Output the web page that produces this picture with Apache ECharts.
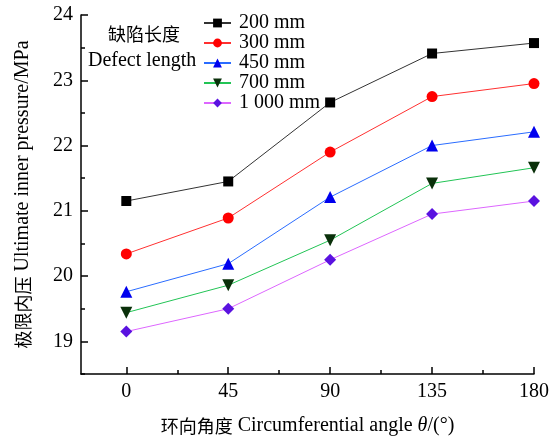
<!DOCTYPE html>
<html><head><meta charset="utf-8">
<script src="https://cdn.jsdelivr.net/npm/echarts@6/dist/echarts.min.js"></script>
<style>html,body{margin:0;padding:0;background:#fff}#c{width:557px;height:441px}</style>
</head><body><div id="c"></div>
<script>
const angles = [0, 45, 90, 135, 180];
const seriesNames = ['200 mm', '300 mm', '450 mm', '700 mm', '1 000 mm'];
const v200 = [21.15, 21.45, 22.66, 23.41, 23.57];
const v300 = [20.34, 20.89, 21.90, 22.75, 22.95];
const v450 = [19.76, 20.19, 21.21, 22.00, 22.21];
const v700 = [19.44, 19.86, 20.55, 21.42, 21.66];
const v1000 = [19.15, 19.50, 20.25, 20.95, 21.15];
const xMajor = [0, 45, 90, 135, 180];
const xMinor = [22.5, 67.5, 112.5, 157.5];
const yMajor = [19, 20, 21, 22, 23, 24];
const yMinor = [18.5, 19.5, 20.5, 21.5, 22.5, 23.5];

const allVals = [v200, v300, v450, v700, v1000];
const lineColors = ['#333333', '#ff3030', '#2a6cff', '#22c455', '#dd66ff'];
const markColors = ['#000000', '#ff0000', '#0000ee', '#0a300a', '#5a12e0'];
const symbols = ['rect', 'circle', 'triangle', 'triangle', 'diamond'];
const symSizes = [10, 11, 12, 12, 12];
const symRot = [0, 0, 0, 180, 0];

const serif = '"Liberation Serif","Times New Roman",serif';
const cjk = '"Noto Sans CJK SC"';
const ax = {color: '#000', width: 1.5};

const chart = echarts.init(document.getElementById('c'));
chart.setOption({
  animation: false,
  grid: {left: 81, right: 23, top: 15, bottom: 65},
  legend: {
    orient: 'vertical', left: 203, top: 13, itemGap: 0, padding: 0,
    itemWidth: 27, itemHeight: 11,
    textStyle: {fontFamily: serif, fontSize: 20, color: '#000', lineHeight: 19.7, padding: [0,0,0,3]},
    data: seriesNames
  },
  xAxis: [{
    type: 'value', min: -20, max: 180,
    axisLine: {onZero: false, lineStyle: ax},
    splitLine: {show: false},
    axisTick: {inside: true, length: 7, lineStyle: ax, customValues: xMajor},
    axisLabel: {customValues: xMajor, fontFamily: serif, fontSize: 20, color: '#000', margin: 8},
    name: '{c|环向角度} Circumferential angle {i|θ}/(°)',
    nameLocation: 'middle', nameGap: 42,
    nameTextStyle: {fontFamily: serif, fontSize: 20, color: '#000',
      rich: {c: {fontFamily: cjk, fontSize: 18, color: '#000'}, i: {fontFamily: serif, fontStyle: 'italic', fontSize: 20, color: '#000'}}}
  }, {
    type: 'value', min: -20, max: 180, position: 'bottom',
    axisLine: {show: false, onZero: false}, splitLine: {show: false},
    axisTick: {inside: true, length: 4, lineStyle: ax, customValues: xMinor},
    axisLabel: {show: false}
  }],
  yAxis: [{
    type: 'value', min: 18.5, max: 24,
    axisLine: {show: true, onZero: false, lineStyle: ax},
    splitLine: {show: false},
    axisTick: {show: true, inside: true, length: 7, lineStyle: ax, customValues: yMajor},
    axisLabel: {customValues: yMajor, fontFamily: serif, fontSize: 20, color: '#000', margin: 8},
    name: '{c|极限内压} Ultimate inner pressure/MPa',
    nameLocation: 'middle', nameGap: 48, nameRotate: 90,
    nameTextStyle: {fontFamily: serif, fontSize: 20, color: '#000',
      rich: {c: {fontFamily: cjk, fontSize: 18, color: '#000'}}}
  }, {
    type: 'value', min: 18.5, max: 24, position: 'left',
    axisLine: {show: false, onZero: false}, splitLine: {show: false},
    axisTick: {show: true, inside: true, length: 4, lineStyle: ax, customValues: yMinor},
    axisLabel: {show: false}
  }],
  graphic: [
    {type: 'text', left: 108, top: 25, style: {text: '缺陷长度', font: '18px ' + cjk, fill: '#000'}},
    {type: 'text', left: 88, top: 51, style: {text: 'Defect length', font: '20px ' + serif, fill: '#000'}}
  ],
  series: allVals.map((vals, i) => ({
    name: seriesNames[i], type: 'line',
    xAxisIndex: 0, yAxisIndex: 0,
    data: angles.map((a, j) => [a, vals[j]]),
    symbol: symbols[i], symbolSize: symSizes[i], symbolRotate: symRot[i],
    showAllSymbol: true,
    lineStyle: {color: lineColors[i], width: 1},
    itemStyle: {color: markColors[i]}
  }))
});
</script></body></html>
